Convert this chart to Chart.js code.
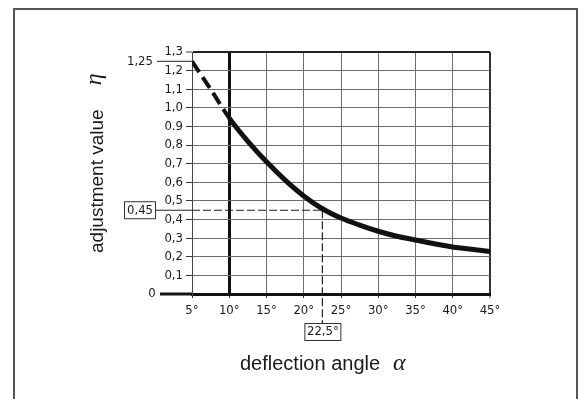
<!DOCTYPE html>
<html>
<head>
<meta charset="utf-8">
<script src="https://cdn.jsdelivr.net/npm/chart.js@4/dist/chart.umd.min.js"></script>
<style>
    html, body { margin: 0; padding: 0; background: #fff; }
    canvas { display: block; }
</style>
</head>
<body>
<canvas id="etaChart" width="583" height="399"></canvas>
<script>
// curve (deg -> eta)
const angles = [5, 7.5, 10, 12.5, 15, 17.5, 20, 22.5, 25, 27.5, 30, 32.5, 35, 37.5, 40, 42.5, 45];
const eta = [1.25, 1.10, 0.945, 0.82, 0.71, 0.612, 0.527, 0.458, 0.408, 0.37, 0.337, 0.31, 0.29, 0.27, 0.253, 0.24, 0.228];
const dashedUntil = 10;

const xTickLabels = ['5°', '10°', '15°', '20°', '25°', '30°', '35°', '40°', '45°'];
const yTickLabels = ['0', '0,1', '0,2', '0,3', '0,4', '0,5', '0,6', '0,7', '0,8', '0.9', '1,0', '1,1', '1,2', '1,3'];

// marked reading
const startValue = 1.25;
const startLabel = '1,25';
const markAngle = 22.5;
const markAngleLabel = '22,5°';
const markValue = 0.45;
const markValueLabel = '0,45';

const xTitle = 'deflection angle';
const xSymbol = 'α';
const yTitle = 'adjustment value';
const ySymbol = 'η';

document.addEventListener('DOMContentLoaded', () => {
    const tickFont = "'DejaVu Sans Condensed', 'DejaVu Sans', sans-serif";
    const titleFont = "'Liberation Sans', Arial, sans-serif";
    const symbolFont = "'Liberation Serif', 'DejaVu Serif', serif";
    const ink = '#1a1a1a';

    const overlay = {
        id: 'overlay',
        beforeDraw(chart) {
            const { ctx } = chart;
            ctx.save();
            ctx.strokeStyle = '#555';
            ctx.lineWidth = 2;
            ctx.strokeRect(14, 9, 563, 430);
            ctx.restore();
        },
        beforeDatasetsDraw(chart) {
            const { ctx, scales: { x, y } } = chart;
            const px = x.getPixelForValue(markAngle);
            const py = y.getPixelForValue(markValue);
            ctx.save();
            ctx.strokeStyle = '#222';
            ctx.lineWidth = 1.2;
            ctx.setLineDash([8, 3]);
            ctx.beginPath();
            ctx.moveTo(x.left, py);
            ctx.lineTo(px, py);
            ctx.moveTo(px, py);
            ctx.lineTo(px, 323);
            ctx.stroke();
            ctx.restore();
        },
        afterDraw(chart) {
            const { ctx, scales: { x, y } } = chart;
            const y0 = y.getPixelForValue(0);
            const ys = y.getPixelForValue(startValue);
            const ym = y.getPixelForValue(markValue);
            const xm = x.getPixelForValue(markAngle);

            ctx.save();
            ctx.strokeStyle = '#222';
            ctx.fillStyle = ink;

            // lead-in lines to the left of the grid
            ctx.lineWidth = 1;
            ctx.beginPath();
            ctx.moveTo(157, ys); ctx.lineTo(x.left, ys);
            ctx.moveTo(156, ym); ctx.lineTo(x.left, ym);
            ctx.stroke();
            ctx.lineWidth = 3;
            ctx.strokeStyle = '#111';
            ctx.beginPath();
            ctx.moveTo(160, y0); ctx.lineTo(x.left, y0);
            ctx.stroke();

            ctx.font = "13px " + tickFont;
            ctx.textBaseline = 'middle';
            ctx.textAlign = 'right';
            ctx.fillText(startLabel, 153, ys);
            ctx.textAlign = 'center';
            ctx.fillText(yTickLabels[0], 152, y0);

            // boxed values
            ctx.lineWidth = 1;
            ctx.strokeStyle = '#333';
            ctx.strokeRect(124.5, ym - 8.5, 31, 17);
            ctx.fillText(markValueLabel, 140, ym);
            ctx.strokeRect(xm - 17.5, 323.5, 36, 17);
            ctx.fillText(markAngleLabel, xm + 0.5, 332);

            // axis titles
            ctx.textBaseline = 'alphabetic';
            ctx.textAlign = 'left';
            ctx.font = "20px " + titleFont;
            ctx.fillText(xTitle, 240, 370);
            ctx.font = "italic 24px " + symbolFont;
            ctx.fillText(xSymbol, 393, 370);

            ctx.translate(103, 253);
            ctx.rotate(-Math.PI / 2);
            ctx.font = "19px " + titleFont;
            ctx.fillText(yTitle, 0, 0);
            const w = ctx.measureText(yTitle).width;
            ctx.font = "italic 24px " + symbolFont;
            ctx.fillText(ySymbol, w + 24, -2);
            ctx.restore();
        }
    };

    const canvas = document.getElementById('etaChart');
    new Chart(canvas.getContext('2d'), {
        type: 'line',
        data: {
            datasets: [{
                data: angles.map((a, i) => ({ x: a, y: eta[i] })),
                borderColor: '#111',
                borderWidth: 5,
                borderCapStyle: 'butt',
                pointRadius: 0,
                fill: false,
                cubicInterpolationMode: 'monotone',
                segment: {
                    borderDash: c => c.p1.parsed.x <= dashedUntil ? [13, 6] : undefined,
                    borderWidth: c => c.p1.parsed.x <= dashedUntil ? 4 : 5
                }
            }]
        },
        options: {
            responsive: false,
            animation: false,
            layout: { padding: { left: 142, right: 93, top: 52, bottom: 65 } },
            plugins: { legend: { display: false }, tooltip: { enabled: false } },
            scales: {
                x: {
                    type: 'linear',
                    min: 5,
                    max: 45,
                    afterFit: s => { s.height = 40; },
                    border: { display: true, color: '#111', width: 3 },
                    grid: {
                        color: c => c.tick && c.tick.value === 10 ? '#111' : (c.tick && c.tick.value === 45 ? '#333' : '#6e6e6e'),
                        lineWidth: c => c.tick && c.tick.value === 10 ? 3 : (c.tick && c.tick.value === 45 ? 2 : 1),
                        tickLength: 4,
                        tickWidth: 1,
                        tickColor: '#333'
                    },
                    ticks: {
                        stepSize: 5,
                        padding: 5,
                        color: ink,
                        font: { family: tickFont, size: 13 },
                        callback: (v, i) => xTickLabels[i]
                    }
                },
                y: {
                    min: 0,
                    max: 1.3,
                    afterFit: s => { s.width = 50; },
                    border: { display: true, color: '#444', width: 1 },
                    grid: {
                        color: c => {
                            const k = c.tick ? Math.round(c.tick.value * 10) : -1;
                            return k === 0 ? '#111' : (k === 13 ? '#222' : '#6e6e6e');
                        },
                        lineWidth: c => {
                            const k = c.tick ? Math.round(c.tick.value * 10) : -1;
                            return k === 0 ? 3 : (k === 13 ? 2 : 1);
                        },
                        tickLength: 6,
                        tickWidth: 1,
                        tickColor: '#333'
                    },
                    ticks: {
                        stepSize: 0.1,
                        padding: 3,
                        color: ink,
                        font: { family: tickFont, size: 13 },
                        callback: v => {
                            const k = Math.round(v * 10);
                            return k === 0 ? '' : yTickLabels[k];
                        }
                    }
                }
            }
        },
        plugins: [overlay]
    });
});
</script>
</body>
</html>
